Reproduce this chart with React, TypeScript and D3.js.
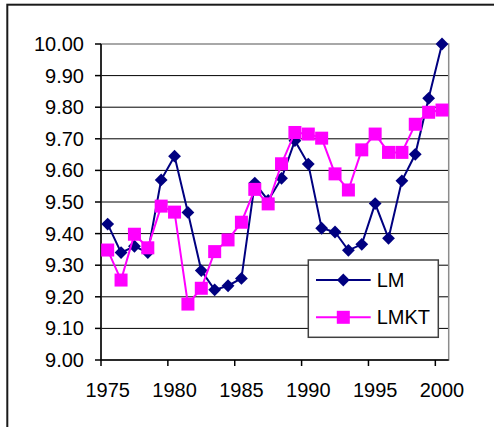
import React from "react";
import * as d3 from "d3";

// Years on the category axis
const years: number[] = d3.range(1975, 2001);

// LM series
const lmValues: number[] = [
  9.43, 9.34, 9.36, 9.34, 9.57, 9.645, 9.467, 9.283, 9.222, 9.235,
  9.258, 9.56, 9.505, 9.575, 9.694, 9.62, 9.417, 9.405, 9.347, 9.366,
  9.495, 9.385, 9.567, 9.651, 9.828, 10.0,
];

// LMKT series
const lmktValues: number[] = [
  9.348, 9.253, 9.398, 9.355, 9.487, 9.468, 9.177, 9.227, 9.343, 9.38,
  9.436, 9.54, 9.494, 9.621, 9.72, 9.715, 9.702, 9.589, 9.538, 9.665,
  9.715, 9.657, 9.657, 9.746, 9.784, 9.791,
];

const yTicks: number[] = d3.range(0, 11).map((i) => 9 + i * 0.1);
const xTickYears: number[] = [1975, 1980, 1985, 1990, 1995, 2000];

const W = 494;
const H = 427;
const plot = { left: 101, right: 448.7, top: 44, bottom: 360 };

const LM_COLOR = "#000080";
const LMKT_COLOR = "#FF00FF";
const FONT = "'Liberation Sans', Arial, sans-serif";

const diamondPath = (r: number) => `M0,${-r}L${r},0L0,${r}L${-r},0Z`;

export default function App() {
  const x = d3
    .scaleBand<number>()
    .domain(years)
    .range([plot.left, plot.right])
    .paddingInner(0)
    .paddingOuter(0);
  const cx = (yr: number) => (x(yr) as number) + x.bandwidth() / 2;
  const y = d3.scaleLinear().domain([9, 10]).range([plot.bottom, plot.top]);

  const line = d3
    .line<number>()
    .x((_, i) => cx(years[i]))
    .y((v) => y(v));

  const sq = 13;
  const dr = 6.4;

  return (
    <div style={{ position: "absolute", left: 0, top: 0 }}>
      <svg width={W} height={H} style={{ display: "block" }}>
        <rect x={0} y={0} width={W} height={H} fill="#ffffff" />
        {/* chart area border */}
        <rect
          x={7.3}
          y={4.7}
          width={700}
          height={700}
          fill="none"
          stroke="#1a1a1a"
          strokeWidth={2}
        />

        {/* horizontal gridlines */}
        {yTicks.slice(1, -1).map((t) => (
          <line
            key={`g${t.toFixed(2)}`}
            x1={plot.left}
            x2={plot.right}
            y1={y(t)}
            y2={y(t)}
            stroke="#000"
            strokeWidth={1}
          />
        ))}

        {/* plot area border */}
        <rect
          x={plot.left}
          y={plot.top}
          width={plot.right - plot.left}
          height={plot.bottom - plot.top}
          fill="none"
          stroke="#8c8c8c"
          strokeWidth={1.5}
        />

        {/* axes */}
        <line
          x1={plot.left}
          x2={plot.left}
          y1={plot.top}
          y2={plot.bottom}
          stroke="#000"
          strokeWidth={1.5}
        />
        <line
          x1={plot.left}
          x2={plot.right}
          y1={plot.bottom}
          y2={plot.bottom}
          stroke="#000"
          strokeWidth={1.5}
        />

        {/* y ticks and labels */}
        {yTicks.map((t) => (
          <g key={`y${t.toFixed(2)}`}>
            <line
              x1={plot.left - 6}
              x2={plot.left}
              y1={y(t)}
              y2={y(t)}
              stroke="#000"
              strokeWidth={1.5}
            />
            <text
              x={84}
              y={y(t)}
              dy="0.35em"
              textAnchor="end"
              fontFamily={FONT}
              fontSize={20}
              fill="#000"
            >
              {t.toFixed(2)}
            </text>
          </g>
        ))}

        {/* x ticks and labels */}
        {xTickYears.map((yr) => (
          <g key={`x${yr}`}>
            <line
              x1={x(yr) as number}
              x2={x(yr) as number}
              y1={plot.bottom}
              y2={plot.bottom + 6}
              stroke="#000"
              strokeWidth={1.5}
            />
            <text
              x={cx(yr)}
              y={397.3}
              textAnchor="middle"
              fontFamily={FONT}
              fontSize={20}
              fill="#000"
            >
              {yr}
            </text>
          </g>
        ))}

        {/* LM series */}
        <path
          d={line(lmValues) ?? ""}
          fill="none"
          stroke={LM_COLOR}
          strokeWidth={2}
        />
        {lmValues.map((v, i) => (
          <path
            key={`lm${i}`}
            d={diamondPath(dr)}
            transform={`translate(${cx(years[i])},${y(v)})`}
            fill={LM_COLOR}
          />
        ))}

        {/* LMKT series */}
        <path
          d={line(lmktValues) ?? ""}
          fill="none"
          stroke={LMKT_COLOR}
          strokeWidth={2}
        />
        {lmktValues.map((v, i) => (
          <rect
            key={`mk${i}`}
            x={cx(years[i]) - sq / 2}
            y={y(v) - sq / 2}
            width={sq}
            height={sq}
            fill={LMKT_COLOR}
          />
        ))}

        {/* legend */}
        <g>
          <rect
            x={308.3}
            y={260}
            width={130}
            height={77.3}
            fill="#fff"
            stroke="#404040"
            strokeWidth={1.5}
          />
          <line x1={316} x2={370.7} y1={280} y2={280} stroke={LM_COLOR} strokeWidth={2} />
          <path d={diamondPath(dr)} transform="translate(343.3,280)" fill={LM_COLOR} />
          <text x={376.7} y={280} dy="0.35em" fontFamily={FONT} fontSize={20} fill="#000">
            LM
          </text>
          <line x1={316} x2={370.7} y1={317.3} y2={317.3} stroke={LMKT_COLOR} strokeWidth={2} />
          <rect x={343.3 - sq / 2} y={317.3 - sq / 2} width={sq} height={sq} fill={LMKT_COLOR} />
          <text x={376.7} y={317.3} dy="0.35em" fontFamily={FONT} fontSize={20} fill="#000">
            LMKT
          </text>
        </g>
      </svg>
    </div>
  );
}
